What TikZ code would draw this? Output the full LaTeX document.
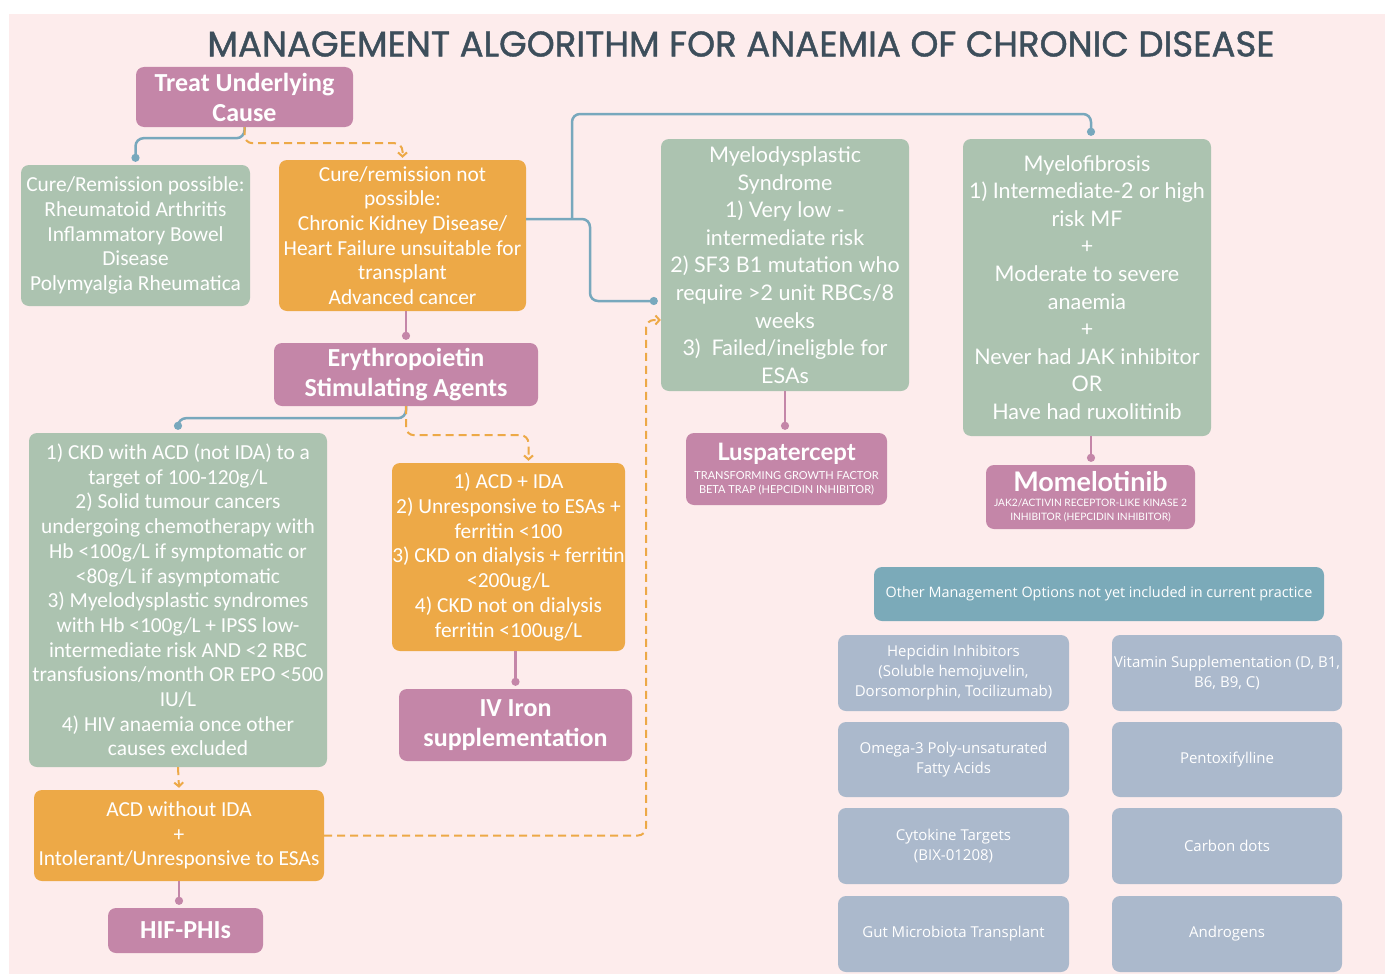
\documentclass[tikz,border=0pt]{standalone}
\usepackage{fontspec}
\setmainfont{Lato}
\newfontfamily\carl{Carlito}
\newfontfamily\pop{Poppins}[FakeBold=1.2]
\newfontfamily\osans{Open Sans}
\usetikzlibrary{arrows.meta,calc}
\definecolor{bgpink}{RGB}{253,236,236}
\definecolor{mauve}{RGB}{196,134,168}
\definecolor{sage}{RGB}{172,195,176}
\definecolor{amber}{RGB}{237,169,71}
\definecolor{tealh}{RGB}{123,170,185}
\definecolor{slate}{RGB}{171,185,204}
\definecolor{linkblue}{RGB}{120,168,189}
\definecolor{titlec}{RGB}{61,78,91}
\begin{document}
\begin{tikzpicture}[x=1pt,y=-1pt,
  box/.style={rounded corners=8pt, align=center, inner sep=0pt, text=white},
  pbox/.style={box, fill=mauve},
  gbox/.style={box, fill=sage},
  obox/.style={box, fill=amber},
  tbox/.style={box, fill=tealh, font=\osans\fontsize{14.4}{20}\selectfont},
  sbox/.style={box, fill=slate, font=\osans\fontsize{15}{20}\selectfont},
  condtxt/.style={font=\carl\fontsize{21.4}{24.7}\selectfont},
  condbold/.style={font=\carl\bfseries\fontsize{26}{30}\selectfont},
  widetxt/.style={font=\fontsize{21.5}{27.6}\selectfont},
  smallcap/.style={font=\fontsize{11}{14}\selectfont},
  blueln/.style={draw=linkblue, line width=2.5pt, rounded corners=8pt},
  dotend/.style={-{Circle[length=8pt]}},
  mauveln/.style={draw=mauve, line width=2.5pt},
  orangedash/.style={draw=amber, line width=2pt, dash pattern=on 8pt off 5pt, rounded corners=8pt, -{Straight Barb[length=4pt,width=9pt]}},
]
\useasboundingbox (0,0) rectangle (1389,974);
\fill[bgpink] (9,14) rectangle (1385,974);

\node[font=\pop\fontsize{35.6}{38}\selectfont, text=titlec] (title) at (741,44) {MANAGEMENT ALGORITHM FOR ANAEMIA OF CHRONIC DISEASE};

% left flow
\node[pbox, condbold, minimum width=217pt, minimum height=60pt] (treat) at (244.5,97) {Treat Underlying\\Cause};
\node[gbox, condtxt, minimum width=229pt, minimum height=141pt] (cure) at (135.5,235.5) {Cure/Remission possible:\\Rheumatoid Arthritis\\Inflammatory Bowel\\Disease\\Polymyalgia Rheumatica};
\node[obox, condtxt, minimum width=247pt, minimum height=151pt] (notcure) at (402.5,235.5) {Cure/remission not\\possible:\\Chronic Kidney Disease/\\Heart Failure unsuitable for\\transplant\\Advanced cancer};
\node[pbox, condbold, minimum width=264pt, minimum height=63pt] (esa) at (406,374.5) {Erythropoietin\\Stimulating Agents};
\node[gbox, condtxt, minimum width=298pt, minimum height=334pt] (ckd) at (178,600) {1) CKD with ACD (not IDA) to a\\target of 100-120g/L\\2) Solid tumour cancers\\undergoing chemotherapy with\\Hb <100g/L if symptomatic or\\<80g/L if asymptomatic\\3) Myelodysplastic syndromes\\with Hb <100g/L + IPSS low-\\intermediate risk AND <2 RBC\\transfusions/month OR EPO <500\\IU/L\\4) HIV anaemia once other\\causes excluded};
\node[obox, condtxt, minimum width=233pt, minimum height=188pt] (ida) at (508.5,557) {1) ACD + IDA\\2) Unresponsive to ESAs +\\ferritin <100\\3) CKD on dialysis + ferritin\\<200ug/L\\4) CKD not on dialysis\\ferritin <100ug/L};
\node[pbox, condbold, minimum width=233pt, minimum height=72pt] (iron) at (515.5,725) {IV Iron\\supplementation};
\node[obox, condtxt, minimum width=290pt, minimum height=91pt] (acd) at (179,835.5) {ACD without IDA\\+\\Intolerant/Unresponsive to ESAs};
\node[pbox, condbold, minimum width=155pt, minimum height=45pt] (hif) at (185.5,930.5) {HIF-PHIs};

% right flow
\node[gbox, widetxt, minimum width=248pt, minimum height=252pt] (mds) at (785,265) {Myelodysplastic\\Syndrome\\1) Very low -\\intermediate risk\\2) SF3 B1 mutation who\\require >2 unit RBCs/8\\weeks\\3)\ \ Failed/ineligble for\\ESAs};
\node[gbox, widetxt, minimum width=248pt, minimum height=297pt] (mf) at (1087,287.5) {Myelofibrosis\\1) Intermediate-2 or high\\risk MF\\+\\Moderate to severe\\anaemia\\+\\Never had JAK inhibitor\\OR\\Have had ruxolitinib};
\node[pbox, smallcap, minimum width=201pt, minimum height=72pt] (lusp) at (786.5,469) {{\fontsize{24}{24}\selectfont\bfseries Luspatercept}\\[5pt]TRANSFORMING GROWTH FACTOR\\BETA TRAP (HEPCIDIN INHIBITOR)};
\node[pbox, font=\fontsize{10.2}{14}\selectfont, minimum width=209pt, minimum height=64pt] (mom) at (1090.5,497) {{\fontsize{27}{27}\selectfont\bfseries Momelotinib}\\[1pt]JAK2/ACTIVIN RECEPTOR-LIKE KINASE 2\\INHIBITOR (HEPCIDIN INHIBITOR)};

% other options
\node[tbox, minimum width=450pt, minimum height=54pt] (other) at (1099,594) {Other Management Options not yet included in current practice};
\node[sbox, minimum width=231pt, minimum height=76pt] (hep) at (953.5,673) {Hepcidin Inhibitors\\(Soluble hemojuvelin,\\Dorsomorphin, Tocilizumab)};
\node[sbox, minimum width=231pt, minimum height=75pt] (omega) at (953.5,759.5) {Omega-3 Poly-unsaturated\\Fatty Acids};
\node[sbox, minimum width=231pt, minimum height=76pt] (cyto) at (953.5,846) {Cytokine Targets\\(BIX-01208)};
\node[sbox, minimum width=231pt, minimum height=76pt] (gut) at (953.5,934) {Gut Microbiota Transplant};
\node[sbox, minimum width=230pt, minimum height=76pt] (vit) at (1227,673) {Vitamin Supplementation (D, B1,\\B6, B9, C)};
\node[sbox, minimum width=230pt, minimum height=75pt] (pento) at (1227,759.5) {Pentoxifylline};
\node[sbox, minimum width=230pt, minimum height=76pt] (carbon) at (1227,846) {Carbon dots};
\node[sbox, minimum width=230pt, minimum height=76pt] (andro) at (1227,934) {Androgens};

% connectors
\draw[blueln, dotend] (treat.south) -- ++(0,11) -| ($(cure.north)+(0,-3)$);
\draw[orangedash] (treat.south) -- ++(0,16) -| ($(notcure.north)+(0,-2)$);
\coordinate (jn) at (572,219);
\draw[blueln, dotend] ($(notcure.east)+(0,-16.5)$) -- (590,219) -- (590,301) -- ($(mds.west)+(-3,36)$);
\draw[blueln, dotend] (jn) -- (572,114) -- (1091,114) -- ($(mf.north)+(4,-3)$);
\draw[mauveln, dotend] (notcure.south -| esa.north) -- ($(esa.north)+(0,-3)$);
\draw[blueln, dotend] (esa.south) -- ++(0,12) -| ($(ckd.north)+(0,-3)$);
\draw[orangedash] (esa.south) -- ++(0,29) -| ($(ida.north)+(20,-2)$);
\draw[mauveln, dotend] (ida.south -| iron.north) -- ($(iron.north)+(0,-3)$);
\draw[orangedash] (ckd.south) -- ($(acd.north)+(0,-2)$);
\draw[mauveln, dotend] (acd.south) -- ($(hif.north -| acd.south)+(0,-3)$);
\draw[orangedash] (acd.east) -- (646,835.5) -- (646,320) -- ($(mds.west)+(0,55)$);
\draw[mauveln, dotend] (mds.south) -- ($(mds.south |- lusp.north)+(0,-3)$);
\draw[mauveln, dotend] ($(mf.south)+(4,0)$) -- ($(mf.south |- mom.north)+(4,-3)$);
\end{tikzpicture}
\end{document}
